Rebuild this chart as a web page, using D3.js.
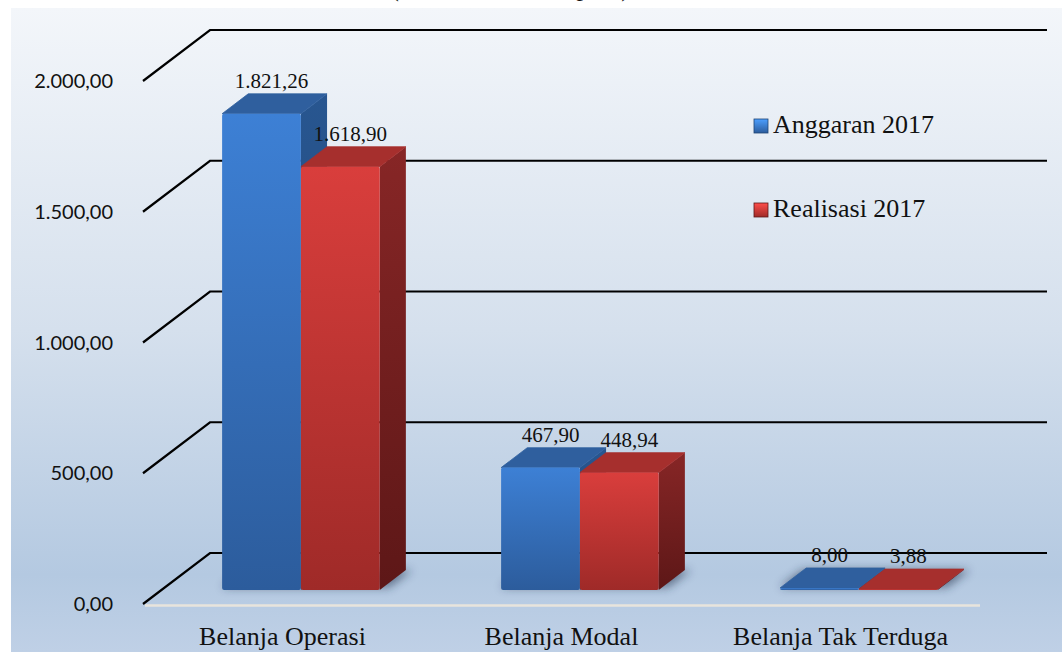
<!DOCTYPE html>
<html>
<head>
	<meta charset="utf-8">
	<title>Belanja 2017</title>
	<script src="https://cdn.jsdelivr.net/npm/d3@7"></script>
	<style>
		body { margin: 0; background: #fff; }
		svg { display: block; }
		.serif { font-family: "Liberation Serif", "Times New Roman", serif; fill: #111; }
		.tick { font-family: Lato, "Open Sans", sans-serif; font-size: 20px; fill: #111; }
	</style>
</head>
<body>
	<svg id="chart" width="1062" height="652"></svg>

	<script type="text/javascript">
		// data
		var categories = ["Belanja Operasi", "Belanja Modal", "Belanja Tak Terduga"]
		var seriesNames = ["Anggaran 2017", "Realisasi 2017"]
		var anggaran = [1821.26, 467.90, 8.00]
		var realisasi = [1618.90, 448.94, 3.88]
		var yTicks = [0, 500, 1000, 1500, 2000]
		var title = "(Dalam Miliar Rupiah)"

		var values = [anggaran, realisasi]

		var idLocale = d3.formatLocale({decimal: ",", thousands: ".", grouping: [3], currency: ["Rp", ""]})
		var fmt = idLocale.format(",.2f")

		var svg = d3.select("#chart")

		// depth offset of the 3d box (back wall vs front edge)
		var depthX = 67, depthY = -51

		var y = d3.scaleLinear().domain([0, 2000]).range([604, 81])
		var x0 = d3.scaleBand().domain(categories).range([143, 980])
		var x1 = d3.scaleBand().domain(seriesNames).range([0, x0.bandwidth()]).paddingOuter(0.77)
		// bars sit between these depths
		var zFront = 0.275, zBack = 0.665

		// project world point (x, value, depth) to screen
		function px(x, z) { return x + z * depthX }
		function py(v, z) { return y(v) + z * depthY }

		var colors = [
			{front: ["#3d80d5", "#2c5c9c"], top: "#2f5f9e", side: ["#285690", "#1f4474"]},
			{front: ["#d93e3c", "#9f2a28"], top: "#a62f2d", side: ["#872626", "#5d1717"]}
		]

		var defs = svg.append("defs")
		var bg = defs.append("linearGradient").attr("id", "bg").attr("x1", 0).attr("y1", 0).attr("x2", 0).attr("y2", 1)
		bg.append("stop").attr("offset", "0%").attr("stop-color", "#f3f6fa")
		bg.append("stop").attr("offset", "50%").attr("stop-color", "#d5e0ed")
		bg.append("stop").attr("offset", "88%").attr("stop-color", "#b4c9e1")
		bg.append("stop").attr("offset", "100%").attr("stop-color", "#bfd0e6")

		colors.forEach(function(c, i) {
			var g = defs.append("linearGradient").attr("id", "front" + i).attr("x1", 0).attr("y1", 0).attr("x2", 0).attr("y2", 1)
			g.append("stop").attr("offset", "0%").attr("stop-color", c.front[0])
			g.append("stop").attr("offset", "100%").attr("stop-color", c.front[1])
			var s = defs.append("linearGradient").attr("id", "side" + i).attr("x1", 0).attr("y1", 0).attr("x2", 0).attr("y2", 1)
			s.append("stop").attr("offset", "0%").attr("stop-color", c.side[0])
			s.append("stop").attr("offset", "100%").attr("stop-color", c.side[1])
			var l = defs.append("linearGradient").attr("id", "leg" + i).attr("x1", 0).attr("y1", 0).attr("x2", 0).attr("y2", 1)
			l.append("stop").attr("offset", "0%").attr("stop-color", d3.color(c.front[0]).brighter(0.6))
			l.append("stop").attr("offset", "100%").attr("stop-color", c.front[1])
		})

		defs.append("filter").attr("id", "blur").attr("x", "-30%").attr("y", "-100%").attr("width", "160%").attr("height", "300%")
			.append("feGaussianBlur").attr("stdDeviation", 5)

		// background panel
		svg.append("rect").attr("x", 11).attr("y", 8).attr("width", 1051).attr("height", 644).attr("fill", "url(#bg)")

		// title (cropped at the top edge, as in the original)
		svg.append("text").attr("class", "serif").attr("x", 510).attr("y", -4)
			.attr("text-anchor", "middle").attr("font-size", 26).text(title)

		// gridlines: front diagonal then along the back wall
		var x0Left = x0.range()[0], x0Right = x0.range()[1]
		svg.append("g").selectAll("path")
			.data(yTicks)
			.enter()
			.append("path")
			.attr("d", d => "M" + px(x0Left, 0) + "," + py(d, 0) + "L" + px(x0Left, 1) + "," + py(d, 1) + "L" + px(x0Right, 1) + "," + py(d, 1))
			.attr("fill", "none")
			.attr("stroke", "#000")
			.attr("stroke-width", 2.2)

		// floor front edge
		svg.append("line")
			.attr("x1", px(x0Left, 0) + 2).attr("x2", px(x0Right, 0))
			.attr("y1", py(0, 0) + 1.5).attr("y2", py(0, 0) + 1.5)
			.attr("stroke", "#e8e4dc").attr("stroke-width", 2.5)

		// y tick labels
		svg.append("g").selectAll("text")
			.data(yTicks)
			.enter()
			.append("text")
			.attr("class", "tick")
			.attr("x", 113)
			.attr("y", d => py(d, 0) + 7)
			.attr("text-anchor", "end")
			.text(d => fmt(d))

		// bars
		var bars = []
		categories.forEach(function(cat, ci) {
			seriesNames.forEach(function(s, si) {
				bars.push({cat: cat, s: s, si: si, v: values[si][ci]})
			})
		})

		// soft shadow under each group
		svg.append("g").selectAll("path")
			.data(categories)
			.enter()
			.append("path")
			.attr("d", function(cat) {
				var xa = x0(cat) + x1(seriesNames[0]) - 4, xb = x0(cat) + x1(seriesNames[1]) + x1.bandwidth() + 6
				return "M" + px(xa, zFront + 0.05) + "," + py(0, zFront + 0.05) +
					"L" + px(xb, zFront + 0.05) + "," + py(0, zFront + 0.05) +
					"L" + px(xb, zBack) + "," + py(0, zBack) +
					"L" + px(xa, zBack) + "," + py(0, zBack) + "Z"
			})
			.attr("fill", "#1c2c44")
			.attr("opacity", 0.55)
			.attr("filter", "url(#blur)")

		var bar = svg.append("g").selectAll("g")
			.data(bars)
			.enter()
			.append("g")

		function poly(pts) {
			return "M" + pts.map(p => p[0] + "," + p[1]).join("L") + "Z"
		}

		// side face
		bar.append("path")
			.attr("d", function(d) {
				var xr = x0(d.cat) + x1(d.s) + x1.bandwidth()
				return poly([[px(xr, zFront), py(0, zFront)], [px(xr, zBack), py(0, zBack)],
					[px(xr, zBack), py(d.v, zBack)], [px(xr, zFront), py(d.v, zFront)]])
			})
			.attr("fill", d => "url(#side" + d.si + ")")

		// top face
		bar.append("path")
			.attr("d", function(d) {
				var xl = x0(d.cat) + x1(d.s), xr = xl + x1.bandwidth()
				return poly([[px(xl, zFront), py(d.v, zFront)], [px(xr, zFront), py(d.v, zFront)],
					[px(xr, zBack), py(d.v, zBack)], [px(xl, zBack), py(d.v, zBack)]])
			})
			.attr("fill", d => colors[d.si].top)
			.attr("stroke", d => colors[d.si].top)
			.attr("stroke-width", 0.8)
			.attr("stroke-linejoin", "round")

		// front face
		bar.append("rect")
			.attr("x", d => px(x0(d.cat) + x1(d.s), zFront))
			.attr("y", d => py(d.v, zFront))
			.attr("width", x1.bandwidth())
			.attr("height", d => py(0, zFront) - py(d.v, zFront))
			.attr("rx", 2)
			.attr("fill", d => "url(#front" + d.si + ")")

		// value labels
		svg.append("g").selectAll("text")
			.data(bars)
			.enter()
			.append("text")
			.attr("class", "serif")
			.attr("font-size", 21)
			.attr("text-anchor", "middle")
			.attr("x", d => px(x0(d.cat) + x1(d.s) + x1.bandwidth() / 2, zFront) + 10)
			.attr("y", d => py(d.v, zFront) - 26)
			.text(d => fmt(d.v))

		// category labels
		svg.append("g").selectAll("text")
			.data(categories)
			.enter()
			.append("text")
			.attr("class", "serif")
			.attr("font-size", 26)
			.attr("text-anchor", "middle")
			.attr("x", d => x0(d) + x0.bandwidth() / 2)
			.attr("y", 645)
			.text(d => d)

		// legend
		var legY = d3.scalePoint().domain(seriesNames).range([119, 203])
		var leg = svg.append("g").selectAll("g")
			.data(seriesNames)
			.enter()
			.append("g")
		leg.append("rect")
			.attr("x", 754).attr("y", d => legY(d))
			.attr("width", 14).attr("height", 14)
			.attr("fill", (d, i) => "url(#leg" + i + ")")
			.attr("stroke", (d, i) => colors[i].side[1]).attr("stroke-width", 0.8)
		leg.append("text")
			.attr("class", "serif")
			.attr("font-size", 26)
			.attr("x", 773)
			.attr("y", d => legY(d) + 14)
			.text(d => d)
	</script>
</body>
</html>
